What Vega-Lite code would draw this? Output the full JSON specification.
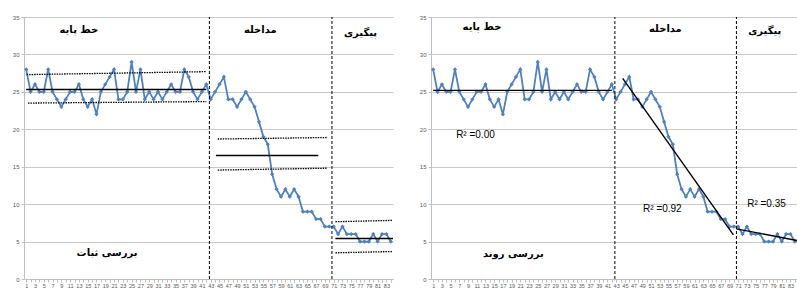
{
  "$schema": "https://vega.github.io/schema/vega-lite/v6.json",
  "padding": {"left": 12, "top": 14, "right": 0, "bottom": 0},
  "autosize": {"type": "pad"},
  "spacing": 24,
  "background": "white",
  "config": {
    "view": {"stroke": null},
    "axis": {
      "labelFont": "Liberation Sans",
      "labelColor": "#595959",
      "domainColor": "#bfbfbf",
      "tickColor": "#bfbfbf",
      "gridColor": "#c8c8c8",
      "gridWidth": 1,
      "labelOverlap": false
    }
  },
  "datasets": {
    "series": [
      {"session": 1, "score": 28}, {"session": 2, "score": 25}, {"session": 3, "score": 26}, {"session": 4, "score": 25},
      {"session": 5, "score": 25}, {"session": 6, "score": 28}, {"session": 7, "score": 25}, {"session": 8, "score": 24},
      {"session": 9, "score": 23}, {"session": 10, "score": 24}, {"session": 11, "score": 25}, {"session": 12, "score": 25},
      {"session": 13, "score": 26}, {"session": 14, "score": 24}, {"session": 15, "score": 23}, {"session": 16, "score": 24},
      {"session": 17, "score": 22}, {"session": 18, "score": 25}, {"session": 19, "score": 26}, {"session": 20, "score": 27},
      {"session": 21, "score": 28}, {"session": 22, "score": 24}, {"session": 23, "score": 24}, {"session": 24, "score": 25},
      {"session": 25, "score": 29}, {"session": 26, "score": 25}, {"session": 27, "score": 28}, {"session": 28, "score": 24},
      {"session": 29, "score": 25}, {"session": 30, "score": 24}, {"session": 31, "score": 25}, {"session": 32, "score": 24},
      {"session": 33, "score": 25}, {"session": 34, "score": 26}, {"session": 35, "score": 25}, {"session": 36, "score": 25},
      {"session": 37, "score": 28}, {"session": 38, "score": 27}, {"session": 39, "score": 25}, {"session": 40, "score": 24},
      {"session": 41, "score": 25}, {"session": 42, "score": 26}, {"session": 43, "score": 24}, {"session": 44, "score": 25},
      {"session": 45, "score": 26}, {"session": 46, "score": 27}, {"session": 47, "score": 24}, {"session": 48, "score": 24},
      {"session": 49, "score": 23}, {"session": 50, "score": 24}, {"session": 51, "score": 25}, {"session": 52, "score": 24},
      {"session": 53, "score": 23}, {"session": 54, "score": 21}, {"session": 55, "score": 19}, {"session": 56, "score": 18},
      {"session": 57, "score": 14}, {"session": 58, "score": 12}, {"session": 59, "score": 11}, {"session": 60, "score": 12},
      {"session": 61, "score": 11}, {"session": 62, "score": 12}, {"session": 63, "score": 11}, {"session": 64, "score": 9},
      {"session": 65, "score": 9}, {"session": 66, "score": 9}, {"session": 67, "score": 8}, {"session": 68, "score": 8},
      {"session": 69, "score": 7}, {"session": 70, "score": 7}, {"session": 71, "score": 7}, {"session": 72, "score": 6},
      {"session": 73, "score": 7}, {"session": 74, "score": 6}, {"session": 75, "score": 6}, {"session": 76, "score": 6},
      {"session": 77, "score": 5}, {"session": 78, "score": 5}, {"session": 79, "score": 5}, {"session": 80, "score": 6},
      {"session": 81, "score": 5}, {"session": 82, "score": 6}, {"session": 83, "score": 6}, {"session": 84, "score": 5}
    ],
    "stabilityLines": [
      {"phase": "baseline", "kind": "mean", "session": 1, "score": 25.3, "session2": 42, "score2": 25.3},
      {"phase": "baseline", "kind": "band", "session": 1.1, "score": 27.3, "session2": 42, "score2": 27.7},
      {"phase": "baseline", "kind": "band", "session": 1.4, "score": 23.5, "session2": 42, "score2": 23.7},
      {"phase": "intervention", "kind": "mean", "session": 44.2, "score": 16.5, "session2": 67.5, "score2": 16.5},
      {"phase": "intervention", "kind": "band", "session": 44.6, "score": 18.7, "session2": 69.4, "score2": 18.9},
      {"phase": "intervention", "kind": "band", "session": 44.6, "score": 14.55, "session2": 69.4, "score2": 14.8},
      {"phase": "followup", "kind": "mean", "session": 71.4, "score": 5.4, "session2": 84.5, "score2": 5.4},
      {"phase": "followup", "kind": "band", "session": 71.4, "score": 7.65, "session2": 84.3, "score2": 7.83},
      {"phase": "followup", "kind": "band", "session": 71.4, "score": 3.5, "session2": 84.3, "score2": 3.67}
    ],
    "trendLines": [
      {"phase": "baseline", "session": 1, "score": 25.2, "session2": 42, "score2": 25.2},
      {"phase": "intervention", "session": 44.5, "score": 26.8, "session2": 69.9, "score2": 5.9},
      {"phase": "followup", "session": 70.6, "score": 6.7, "session2": 84.5, "score2": 5.15}
    ],
    "phaseBreaks": [
      {"session": 42.7, "session2": 42.7, "score": 0, "score2": 35},
      {"session": 70.6, "session2": 70.6, "score": 0, "score2": 35}
    ],
    "leftLabels": [
      {"label": "خط پایه", "session": 13, "score": 33.2},
      {"label": "مداخله", "session": 54.3, "score": 33.3},
      {"label": "پیگیری", "session": 77.1, "score": 32.8},
      {"label": "بررسی ثبات", "session": 19.4, "score": 3.5}
    ],
    "rightLabels": [
      {"label": "خط پایه", "session": 12.2, "score": 33.6},
      {"label": "مداخله", "session": 54.3, "score": 33.4},
      {"label": "پیگیری", "session": 77.1, "score": 33.1},
      {"label": "بررسی روند", "session": 19.4, "score": 3.4}
    ],
    "rSquared": [
      {"label": "R² =0.00", "session": 10.7, "score": 19.2},
      {"label": "R² =0.92", "session": 53.6, "score": 9.3},
      {"label": "R² =0.35", "session": 77.5, "score": 10.0}
    ]
  },
  "hconcat": [
    {
      "width": 369,
      "height": 262,
      "encoding": {
        "x": {"field": "session", "type": "quantitative", "title": null,
              "scale": {"domain": [0.5, 84.5], "nice": false, "zero": false},
              "axis": {"values": [1,2,3,4,5,6,7,8,9,10,11,12,13,14,15,16,17,18,19,20,21,22,23,24,25,26,27,28,29,30,31,32,33,34,35,36,37,38,39,40,41,42,43,44,45,46,47,48,49,50,51,52,53,54,55,56,57,58,59,60,61,62,63,64,65,66,67,68,69,70,71,72,73,74,75,76,77,78,79,80,81,82,83,84],
                       "labelExpr": "datum.value % 2 === 1 ? datum.label : ''",
                       "labelOverlap": false, "labelFontSize": 5.5, "tickSize": 3, "labelPadding": 1, "grid": false}},
        "y": {"field": "score", "type": "quantitative", "title": null,
              "scale": {"domain": [0, 35], "nice": false},
              "axis": {"values": [0,5,10,15,20,25,30,35], "labelOverlap": false, "labelFontSize": 6, "tickSize": 3, "labelPadding": 2, "grid": true}}
      },
      "layer": [
        {
          "data": {"name": "series"},
          "mark": {"type": "line", "color": "#4F81BD", "strokeWidth": 1.8,
                   "point": {"shape": "diamond", "filled": true, "size": 18, "color": "#4F81BD"}}
        },
        {
          "data": {"name": "stabilityLines"},
          "transform": [{"filter": "datum.kind === 'mean'"}],
          "mark": {"type": "rule", "color": "black", "strokeWidth": 1.5},
          "encoding": {"x2": {"field": "session2"}, "y2": {"field": "score2"}}
        },
        {
          "data": {"name": "stabilityLines"},
          "transform": [{"filter": "datum.kind === 'band'"}],
          "mark": {"type": "rule", "color": "black", "strokeWidth": 1.3, "strokeDash": [1.5, 1]},
          "encoding": {"x2": {"field": "session2"}, "y2": {"field": "score2"}}
        },
        {
          "data": {"name": "phaseBreaks"},
          "mark": {"type": "rule", "color": "black", "strokeWidth": 1, "strokeDash": [3, 2]},
          "encoding": {"x2": {"field": "session2"}, "y2": {"field": "score2"}}
        },
        {
          "data": {"name": "leftLabels"},
          "mark": {"type": "text", "font": "DejaVu Sans", "fontWeight": "bold", "fontSize": 10, "color": "black", "align": "center", "baseline": "middle"},
          "encoding": {"text": {"field": "label"}}
        }
      ]
    },
    {
      "width": 366,
      "height": 262,
      "encoding": {
        "x": {"field": "session", "type": "quantitative", "title": null,
              "scale": {"domain": [0.5, 84.5], "nice": false, "zero": false},
              "axis": {"values": [1,2,3,4,5,6,7,8,9,10,11,12,13,14,15,16,17,18,19,20,21,22,23,24,25,26,27,28,29,30,31,32,33,34,35,36,37,38,39,40,41,42,43,44,45,46,47,48,49,50,51,52,53,54,55,56,57,58,59,60,61,62,63,64,65,66,67,68,69,70,71,72,73,74,75,76,77,78,79,80,81,82,83,84],
                       "labelExpr": "datum.value % 2 === 1 ? datum.label : ''",
                       "labelOverlap": false, "labelFontSize": 5.5, "tickSize": 3, "labelPadding": 1, "grid": false}},
        "y": {"field": "score", "type": "quantitative", "title": null,
              "scale": {"domain": [0, 35], "nice": false},
              "axis": {"values": [0,5,10,15,20,25,30,35], "labelOverlap": false, "labelFontSize": 6, "tickSize": 3, "labelPadding": 2, "grid": true}}
      },
      "layer": [
        {
          "data": {"name": "series"},
          "mark": {"type": "line", "color": "#4F81BD", "strokeWidth": 1.8,
                   "point": {"shape": "diamond", "filled": true, "size": 18, "color": "#4F81BD"}}
        },
        {
          "data": {"name": "trendLines"},
          "mark": {"type": "rule", "color": "black", "strokeWidth": 1.4},
          "encoding": {"x2": {"field": "session2"}, "y2": {"field": "score2"}}
        },
        {
          "data": {"name": "phaseBreaks"},
          "mark": {"type": "rule", "color": "black", "strokeWidth": 1, "strokeDash": [3, 2]},
          "encoding": {"x2": {"field": "session2"}, "y2": {"field": "score2"}}
        },
        {
          "data": {"name": "rightLabels"},
          "mark": {"type": "text", "font": "DejaVu Sans", "fontWeight": "bold", "fontSize": 10, "color": "black", "align": "center", "baseline": "middle"},
          "encoding": {"text": {"field": "label"}}
        },
        {
          "data": {"name": "rSquared"},
          "mark": {"type": "text", "font": "Liberation Sans", "fontSize": 10, "color": "black", "align": "center", "baseline": "middle"},
          "encoding": {"text": {"field": "label"}}
        }
      ]
    }
  ]
}
